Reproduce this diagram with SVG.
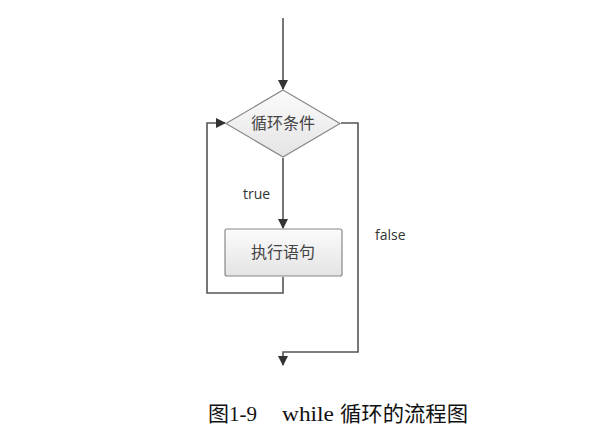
<svg xmlns="http://www.w3.org/2000/svg" width="615" height="433" viewBox="0 0 615 433">
<defs>
<linearGradient id="g" x1="0" y1="0" x2="0" y2="1"><stop offset="0" stop-color="#fbfbfb"/><stop offset="1" stop-color="#e4e4e4"/></linearGradient>
<marker id="ah" markerWidth="10" markerHeight="10" refX="9" refY="5" orient="auto" markerUnits="userSpaceOnUse"><path d="M0,0 L10,5 L0,10 Z" fill="#333"/></marker>
<style>
.ln{fill:none;stroke:#555;stroke-width:1.6}
.nd{fill:url(#g);stroke:#888;stroke-width:1.2}
.cj{font-family:"Noto Sans CJK SC",sans-serif;font-size:16px;fill:#444;text-anchor:middle}
.lb{font-family:"Open Sans","DejaVu Sans",sans-serif;font-size:14px;fill:#333}
.cap{font-family:"Liberation Serif","Noto Sans CJK SC",serif;font-size:21px;fill:#111}
</style>
</defs>
<rect width="615" height="433" fill="#fff"/>
<g id="connectors">
<path class="ln" d="M283,18 V89" marker-end="url(#ah)"/>
<path class="ln" d="M283,158 V228" marker-end="url(#ah)"/>
<path class="ln" d="M283,277 V293 H207 V123 H225" marker-end="url(#ah)"/>
<path class="ln" d="M341,123 H358 V352 H283 V365" marker-end="url(#ah)"/>
</g>
<g id="cond">
<polygon class="nd" points="283,90 340,123.5 283,157 226,123.5"/>
<text class="cj" x="283" y="129">循环条件</text>
</g>
<g id="body">
<rect class="nd" x="225" y="229" width="117" height="47" rx="2"/>
<text class="cj" x="283" y="258">执行语句</text>
</g>
<text class="lb" x="243" y="199">true</text>
<text class="lb" x="375" y="240">false</text>
<text class="cap" y="421"><tspan x="208">图1-9</tspan><tspan x="282" textLength="52" lengthAdjust="spacingAndGlyphs">while</tspan><tspan x="340" textLength="128" lengthAdjust="spacingAndGlyphs">循环的流程图</tspan></text>
</svg>
